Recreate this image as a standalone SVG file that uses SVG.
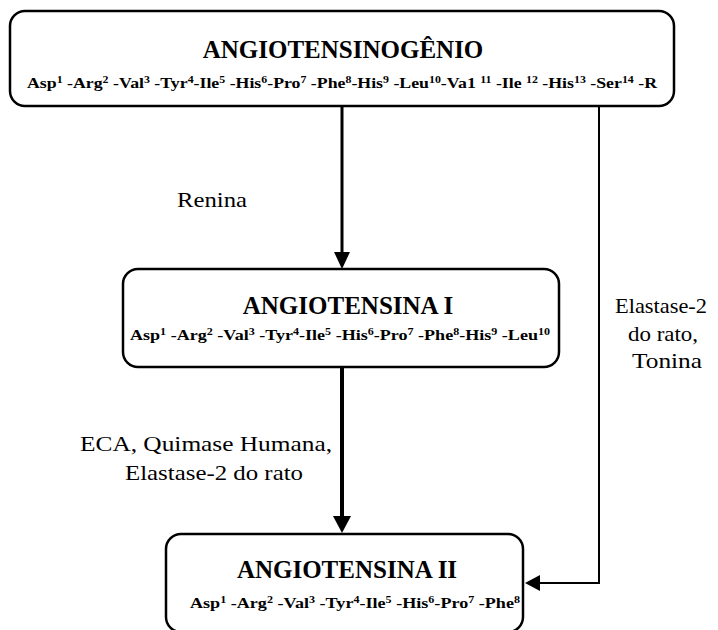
<svg xmlns="http://www.w3.org/2000/svg" width="718" height="630" viewBox="0 0 718 630">
<style>
.box{fill:#fff;stroke:#000;stroke-width:2.5}
.title{font-family:"Liberation Serif","Times New Roman",serif;font-weight:bold;font-size:25px;text-anchor:middle;fill:#000}
.seq{font-family:"Liberation Serif","Times New Roman",serif;font-weight:bold;font-size:15px;fill:#000}
.sup{font-size:10px}
.ln{fill:none;stroke:#000}
.lbl{font-family:"Liberation Serif","Noto Serif","DejaVu Serif Condensed","DejaVu Serif",serif;font-size:22px;font-weight:400;fill:#000}
</style>
<rect width="718" height="630" fill="#fff"/>
<g id="connectors">
<line class="ln" x1="342" y1="106" x2="342" y2="254" stroke-width="3"/>
<polygon points="334,252 350,252 342,269"/>
<line class="ln" x1="342" y1="367" x2="342" y2="518" stroke-width="4"/>
<polygon points="333,516 351,516 342,533"/>
<polyline class="ln" points="599,106 599,583 538,583" stroke-width="2"/>
<polygon points="540,575 540,591 525,583"/>
</g>
<g id="labels">
<text class="lbl" x="177" y="207" textLength="70" lengthAdjust="spacingAndGlyphs">Renina</text>
<text class="lbl" x="206" y="451" text-anchor="middle" textLength="252" lengthAdjust="spacingAndGlyphs">ECA, Quimase Humana,</text>
<text class="lbl" x="214" y="480" text-anchor="middle" textLength="178" lengthAdjust="spacingAndGlyphs">Elastase-2 do rato</text>
<text class="lbl" x="661" y="313" text-anchor="middle" textLength="92" lengthAdjust="spacingAndGlyphs">Elastase-2</text>
<text class="lbl" x="663" y="341" text-anchor="middle" textLength="70" lengthAdjust="spacingAndGlyphs">do rato,</text>
<text class="lbl" x="667" y="368" text-anchor="middle" textLength="70" lengthAdjust="spacingAndGlyphs">Tonina</text>
</g>
<g id="angiotensinogenio">
<rect class="box" x="10" y="11" width="664" height="95" rx="15"/>
<text class="title" x="343" y="58">ANGIOTENSINOGÊNIO</text>
<text class="seq" x="27" y="88" textLength="630" lengthAdjust="spacingAndGlyphs">Asp<tspan class="sup" dy="-5">1</tspan><tspan dy="5"> -Arg</tspan><tspan class="sup" dy="-5">2</tspan><tspan dy="5"> -Val</tspan><tspan class="sup" dy="-5">3</tspan><tspan dy="5"> -Tyr</tspan><tspan class="sup" dy="-5">4</tspan><tspan dy="5">-Ile</tspan><tspan class="sup" dy="-5">5</tspan><tspan dy="5"> -His</tspan><tspan class="sup" dy="-5">6</tspan><tspan dy="5">-Pro</tspan><tspan class="sup" dy="-5">7</tspan><tspan dy="5"> -Phe</tspan><tspan class="sup" dy="-5">8</tspan><tspan dy="5">-His</tspan><tspan class="sup" dy="-5">9</tspan><tspan dy="5"> -Leu</tspan><tspan class="sup" dy="-5">10</tspan><tspan dy="5">-Va1 </tspan><tspan class="sup" dy="-5">11</tspan><tspan dy="5"> -Ile </tspan><tspan class="sup" dy="-5">12</tspan><tspan dy="5"> -His</tspan><tspan class="sup" dy="-5">13</tspan><tspan dy="5"> -Ser</tspan><tspan class="sup" dy="-5">14</tspan><tspan dy="5"> -R</tspan></text>
</g>
<g id="angiotensina-i">
<rect class="box" x="123" y="269" width="436" height="98" rx="15"/>
<text class="title" x="348" y="314">ANGIOTENSINA I</text>
<text class="seq" x="130" y="340" textLength="420" lengthAdjust="spacingAndGlyphs">Asp<tspan class="sup" dy="-5">1</tspan><tspan dy="5"> -Arg</tspan><tspan class="sup" dy="-5">2</tspan><tspan dy="5"> -Val</tspan><tspan class="sup" dy="-5">3</tspan><tspan dy="5"> -Tyr</tspan><tspan class="sup" dy="-5">4</tspan><tspan dy="5">-Ile</tspan><tspan class="sup" dy="-5">5</tspan><tspan dy="5"> -His</tspan><tspan class="sup" dy="-5">6</tspan><tspan dy="5">-Pro</tspan><tspan class="sup" dy="-5">7</tspan><tspan dy="5"> -Phe</tspan><tspan class="sup" dy="-5">8</tspan><tspan dy="5">-His</tspan><tspan class="sup" dy="-5">9</tspan><tspan dy="5"> -Leu</tspan><tspan class="sup" dy="-5">10</tspan></text>
</g>
<g id="angiotensina-ii">
<rect class="box" x="166" y="534" width="357" height="98" rx="15"/>
<text class="title" x="347" y="578">ANGIOTENSINA II</text>
<text class="seq" x="190" y="608" textLength="330" lengthAdjust="spacingAndGlyphs">Asp<tspan class="sup" dy="-5">1</tspan><tspan dy="5"> -Arg</tspan><tspan class="sup" dy="-5">2</tspan><tspan dy="5"> -Val</tspan><tspan class="sup" dy="-5">3</tspan><tspan dy="5"> -Tyr</tspan><tspan class="sup" dy="-5">4</tspan><tspan dy="5">-Ile</tspan><tspan class="sup" dy="-5">5</tspan><tspan dy="5"> -His</tspan><tspan class="sup" dy="-5">6</tspan><tspan dy="5">-Pro</tspan><tspan class="sup" dy="-5">7</tspan><tspan dy="5"> -Phe</tspan><tspan class="sup" dy="-5">8</tspan></text>
</g>
</svg>
